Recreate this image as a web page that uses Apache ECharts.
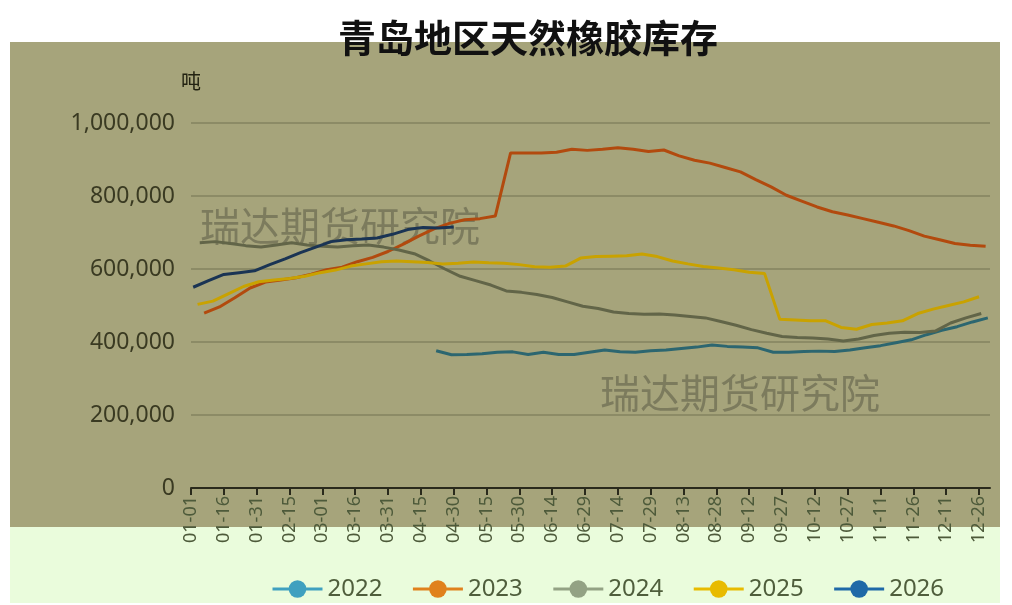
<!DOCTYPE html>
<html>
<head>
<meta charset="utf-8">
<script src="https://cdn.jsdelivr.net/npm/echarts@6/dist/echarts.min.js"></script>
<style>
html,body{margin:0;padding:0;background:#ffffff;}
#chart{width:1012px;height:605px;}
</style>
</head>
<body>
<div id="chart"></div>
<script>
// x axis: every day of a (leap) year, MM-DD
var monthDays = [31, 29, 31, 30, 31, 30, 31, 31, 30, 31, 30, 31]
var days = []
for (var m = 0; m < 12; m++) {
  for (var d = 1; d <= monthDays[m]; d++) {
    days.push((m < 9 ? '0' : '') + (m + 1) + '-' + (d < 10 ? '0' : '') + d)
  }
}

var years = ['2022', '2023', '2024', '2025', '2026']
// first day index of each weekly series, one point every 7 days
var startDay = { '2022': 112, '2023': 6, '2024': 4, '2025': 3, '2026': 1 }

var stock2022 = [376000, 365000, 366000, 368000, 372000, 373000, 366000, 372000, 366000, 366000,
  372000, 378000, 373000, 372000, 376000, 378000, 382000, 386000, 392000, 388000,
  386000, 384000, 372000, 372000, 374000, 375000, 374000, 378000, 384000, 390000,
  398000, 406000, 420000, 432000, 442000, 455000, 466000]
var stock2023 = [479000, 496000, 521000, 548000, 564000, 570000, 576000, 586000, 598000, 605000,
  620000, 632000, 648000, 668000, 690000, 710000, 725000, 735000, 738000, 745000,
  918000, 918000, 918000, 920000, 928000, 925000, 928000, 932000, 928000, 922000,
  926000, 910000, 898000, 890000, 878000, 866000, 845000, 825000, 802000, 786000,
  770000, 757000, 748000, 738000, 728000, 718000, 705000, 690000, 680000, 670000,
  665000, 662000]
var stock2024 = [672000, 675000, 670000, 664000, 660000, 666000, 672000, 666000, 662000, 660000,
  664000, 666000, 660000, 652000, 642000, 622000, 600000, 580000, 568000, 556000,
  540000, 536000, 530000, 522000, 510000, 498000, 492000, 482000, 478000, 476000,
  477000, 474000, 470000, 466000, 456000, 446000, 434000, 424000, 415000, 412000,
  411000, 408000, 403000, 408000, 418000, 424000, 427000, 426000, 430000, 452000,
  466000, 478000]
var stock2025 = [503000, 512000, 532000, 552000, 565000, 570000, 574000, 580000, 590000, 597000,
  608000, 614000, 620000, 622000, 620000, 618000, 614000, 616000, 619000, 617000,
  616000, 612000, 606000, 605000, 608000, 630000, 634000, 635000, 636000, 641000,
  634000, 622000, 614000, 607000, 603000, 598000, 591000, 588000, 462000, 460000,
  458000, 458000, 440000, 435000, 448000, 452000, 458000, 478000, 490000, 500000,
  510000, 524000]
var stock2026 = [550000, 568000, 585000, 590000, 595000, 612000, 628000, 645000, 660000, 675000,
  680000, 682000, 685000, 695000, 708000, 714000, 712000, 715000]

var stockByYear = { '2022': stock2022, '2023': stock2023, '2024': stock2024, '2025': stock2025, '2026': stock2026 }
var lineColors = { '2022': '#2c6670', '2023': '#b24a0e', '2024': '#626548', '2025': '#c9a200', '2026': '#1a3454' }
var legendColors = { '2022': '#3fa0bf', '2023': '#e0811c', '2024': '#93a284', '2025': '#e8bb00', '2026': '#1f69a7' }

var series = years.map(function (y) {
  var vals = stockByYear[y]
  return {
    name: y,
    type: 'line',
    symbol: 'circle',
    symbolSize: 8,
    showSymbol: false,
    data: vals.map(function (v, i) { return [days[startDay[y] + 7 * i], v] }),
    lineStyle: { width: 3, color: lineColors[y] },
    itemStyle: { color: lineColors[y] }
  }
})

var myChart = echarts.init(document.getElementById('chart'))
myChart.setOption({
  backgroundColor: '#ffffff',
  animation: false,
  graphic: [
    { type: 'rect', z: -10, shape: { x: 10, y: 42, width: 990, height: 485 }, style: { fill: '#a6a47b' } },
    { type: 'rect', z: -10, shape: { x: 10, y: 527, width: 990, height: 76 }, style: { fill: '#eafcdc' } },
    { type: 'text', z: 1, left: 200, top: 206, style: { text: '瑞达期货研究院', fontSize: 40, fill: 'rgba(90,90,70,0.55)', fontFamily: 'Noto Sans CJK SC' } },
    { type: 'text', z: 1, left: 600, top: 373, style: { text: '瑞达期货研究院', fontSize: 40, fill: 'rgba(90,90,70,0.55)', fontFamily: 'Noto Sans CJK SC' } }
  ],
  title: {
    text: '青岛地区天然橡胶库存',
    left: 333,
    top: 14,
    textStyle: { fontSize: 38, fontWeight: 'bold', color: '#111111', fontFamily: 'Noto Sans CJK SC' }
  },
  legend: {
    data: years.map(function (y) {
      return { name: y, itemStyle: { color: legendColors[y] }, lineStyle: { color: legendColors[y], width: 3 } }
    }),
    left: 266,
    top: 572,
    itemWidth: 50,
    itemHeight: 22,
    itemGap: 29,
    textStyle: { fontSize: 24, color: '#4f5e3c', fontFamily: 'Noto Sans' }
  },
  grid: { left: 191, right: 22, top: 123, bottom: 117 },
  xAxis: {
    type: 'category',
    data: days,
    boundaryGap: false,
    axisLine: { lineStyle: { color: '#2a2a1c', width: 2 } },
    axisTick: { interval: 14, length: 7, lineStyle: { color: '#2a2a1c', width: 2 } },
    axisLabel: { interval: 14, rotate: 90, fontSize: 18, color: '#4d5a3a', margin: 8, fontFamily: 'Noto Sans' },
    splitLine: { show: false }
  },
  yAxis: {
    type: 'value',
    min: 0,
    max: 1000000,
    interval: 200000,
    name: '吨',
    nameGap: 32,
    nameTextStyle: { fontSize: 20, color: '#222211', fontFamily: 'Noto Sans CJK SC', align: 'center' },
    axisLine: { show: false },
    axisTick: { show: false },
    axisLabel: {
      fontSize: 23,
      color: '#3a3a22',
      margin: 16,
      fontFamily: 'Noto Sans',
      formatter: function (v) { return v.toLocaleString('en-US') }
    },
    splitLine: { lineStyle: { color: '#8c8b66', width: 2 } }
  },
  series: series
})
</script>
</body>
</html>
